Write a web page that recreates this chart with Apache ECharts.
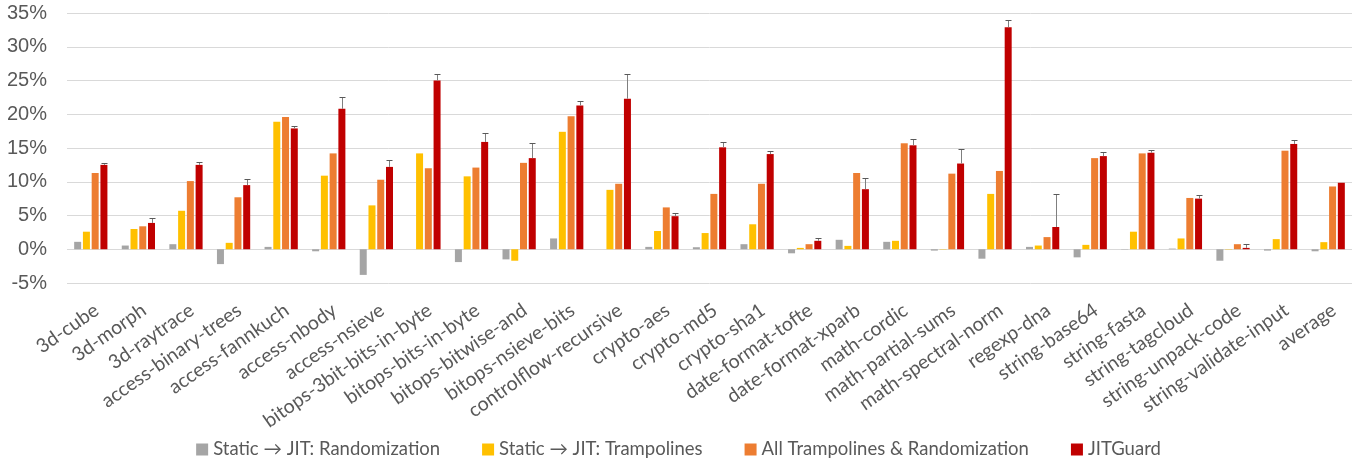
<!DOCTYPE html>
<html>
<head>
<meta charset="utf-8">
<script src="https://cdn.jsdelivr.net/npm/echarts@6/dist/echarts.min.js"></script>
<style>
  html, body { margin: 0; padding: 0; background: #fff; }
  #overhead { width: 1357px; height: 461px; }
</style>
</head>
<body>
<div id="overhead"></div>
<script>
// benchmark names (x axis)
var benchmarks = ['3d-cube', '3d-morph', '3d-raytrace', 'access-binary-trees', 'access-fannkuch',
  'access-nbody', 'access-nsieve', 'bitops-3bit-bits-in-byte', 'bitops-bits-in-byte',
  'bitops-bitwise-and', 'bitops-nsieve-bits', 'controlflow-recursive', 'crypto-aes',
  'crypto-md5', 'crypto-sha1', 'date-format-tofte', 'date-format-xparb', 'math-cordic',
  'math-partial-sums', 'math-spectral-norm', 'regexp-dna', 'string-base64', 'string-fasta',
  'string-tagcloud', 'string-unpack-code', 'string-validate-input', 'average'];

// overhead in %
var staticRandom = [1.1, 0.55, 0.75, -2.2, 0.35, -0.3, -3.8, 0, -1.9, -1.5, 1.6, 0, 0.35,
  0.3, 0.75, -0.6, 1.4, 1.1, -0.2, -1.4, 0.35, -1.2, -0.05, 0.1, -1.7, -0.2, -0.3];
var staticTramp = [2.6, 3.0, 5.7, 0.95, 18.9, 10.9, 6.5, 14.2, 10.8, -1.7, 17.4, 8.8, 2.7,
  2.4, 3.7, 0.2, 0.5, 1.25, -0.05, 8.2, 0.55, 0.65, 2.6, 1.6, -0.05, 1.5, 1.05];
var allTramp = [11.3, 3.4, 10.1, 7.7, 19.6, 14.2, 10.3, 12.0, 12.1, 12.8, 19.7, 9.7, 6.2,
  8.2, 9.7, 0.75, 11.3, 15.7, 11.2, 11.6, 1.8, 13.5, 14.2, 7.6, 0.75, 14.6, 9.3];
var jitGuard = [12.5, 3.9, 12.5, 9.5, 17.9, 20.8, 12.2, 25.0, 15.9, 13.5, 21.3, 22.3, 4.9,
  15.1, 14.1, 1.25, 8.9, 15.4, 12.7, 32.9, 3.3, 13.8, 14.3, 7.5, 0.2, 15.6, 9.85];
// plus error of JITGuard
var jitGuardErr = [0.3, 0.8, 0.4, 0.9, 0.3, 1.8, 1.0, 1.0, 1.3, 2.3, 0.7, 3.7, 0.4,
  0.8, 0.5, 0.35, 1.6, 0.9, 2.2, 1.1, 4.9, 0.6, 0.4, 0.6, 0.55, 0.6, 0];

var yTicks = { min: -5, max: 35, interval: 5 };

var barW = 7;
var gapRatio = 0.25;
var errOffset = 1.5 * barW * (1 + gapRatio);

var greyText = '#595959';

var errData = benchmarks.map(function (b, i) {
  return [i, jitGuard[i], jitGuardErr[i]];
});

var option = {
  animation: false,
  grid: {
    left: 67,
    right: 5,
    top: 13,
    height: 270,
    containLabel: false
  },
  legend: {
    data: ['Static \u2192 JIT: Randomization', 'Static \u2192 JIT: Trampolines',
      'All Trampolines & Randomization', 'JITGuard'],
    left: 'center',
    top: 435,
    icon: 'rect',
    itemWidth: 12,
    itemHeight: 12,
    itemGap: 42,
    textStyle: {
      fontFamily: 'Lato, "Noto Sans", sans-serif',
      fontSize: 18.5,
      color: greyText
    }
  },
  xAxis: {
    type: 'category',
    data: benchmarks,
    axisLine: { show: false, onZero: false },
    axisTick: { show: false },
    axisLabel: {
      interval: 0,
      rotate: 35,
      margin: 17,
      verticalAlign: 'top',
      fontFamily: 'Lato, "Noto Sans", sans-serif',
      fontSize: 19.5,
      color: greyText
    }
  },
  yAxis: {
    type: 'value',
    min: yTicks.min,
    max: yTicks.max,
    interval: yTicks.interval,
    axisLine: { show: false },
    axisTick: { show: false },
    axisLabel: {
      formatter: '{value}%',
      margin: 20,
      fontFamily: '"Liberation Sans", Arial, sans-serif',
      fontSize: 20,
      color: greyText
    },
    splitLine: { lineStyle: { color: '#d9d9d9', width: 1 } }
  },
  series: [
    {
      name: 'Static \u2192 JIT: Randomization',
      type: 'bar',
      data: staticRandom,
      barWidth: barW,
      barGap: '25%',
      itemStyle: { color: '#a5a5a5' }
    },
    {
      name: 'Static \u2192 JIT: Trampolines',
      type: 'bar',
      data: staticTramp,
      barWidth: barW,
      barGap: '25%',
      itemStyle: { color: '#ffc000' }
    },
    {
      name: 'All Trampolines & Randomization',
      type: 'bar',
      data: allTramp,
      barWidth: barW,
      barGap: '25%',
      itemStyle: { color: '#ed7d31' }
    },
    {
      name: 'JITGuard',
      type: 'bar',
      data: jitGuard,
      barWidth: barW,
      barGap: '25%',
      itemStyle: { color: '#c00000' }
    },
    {
      // error bars on JITGuard
      type: 'custom',
      z: 5,
      data: errData,
      encode: { x: 0, y: 1 },
      renderItem: function (params, api) {
        var e = api.value(2);
        if (!e) return null;
        var i = api.value(0);
        var v = api.value(1);
        var bottom = api.coord([i, v]);
        var top = api.coord([i, v + e]);
        var x = Math.round(bottom[0] + errOffset) + 0.5;
        var yt = Math.round(top[1]) + 0.5;
        return {
          type: 'group',
          children: [
            {
              type: 'line',
              shape: { x1: x, y1: bottom[1], x2: x, y2: yt },
              style: { stroke: '#7f7f7f', lineWidth: 1 }
            },
            {
              type: 'line',
              shape: { x1: x - 3, y1: yt, x2: x + 3, y2: yt },
              style: { stroke: '#595959', lineWidth: 1 }
            }
          ]
        };
      }
    }
  ]
};

var dom = document.getElementById('overhead');
var chart = echarts.init(dom);
option && chart.setOption(option);
</script>
</body>
</html>
